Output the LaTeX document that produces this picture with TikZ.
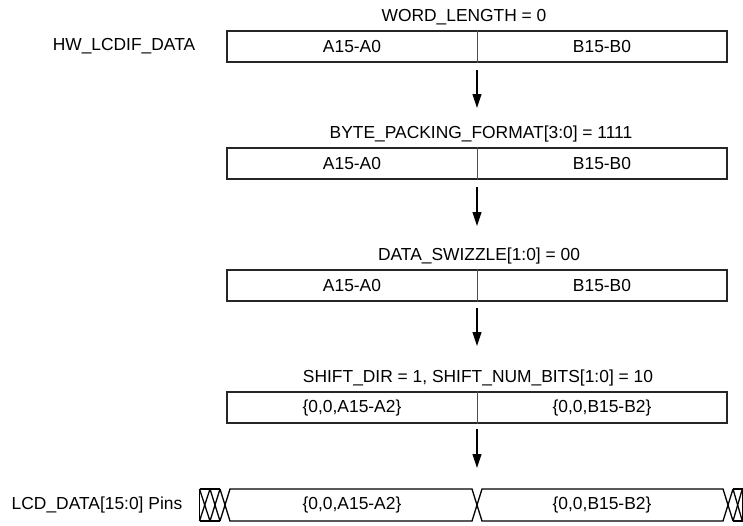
\documentclass[tikz,border=0pt]{standalone}
\usepackage{fontspec}
\setmainfont{Liberation Sans}
\usetikzlibrary{arrows.meta}

\tikzset{
    frame/.style={draw=black!85, line width=1.2pt, minimum width=500pt, minimum height=31pt, inner sep=0pt},
    divider/.style={draw=black!70, line width=0.9pt},
    title/.style={anchor=base, inner sep=0pt},
    flow/.style={draw=black, line width=1.1pt, -{Triangle[width=9pt,length=14pt]}},
    bus/.style={draw=black, line width=1.3pt},
}

\begin{document}
\begin{tikzpicture}[x=1pt, y=-1pt, font=\fontsize{17.4pt}{20pt}\selectfont]
    \useasboundingbox (0,0) rectangle (743,525);

    % titles
    \node[title] (wlen) at (464,21.5){WORD\_LENGTH = 0};
    \node[title] (bpf) at (481,138.5){BYTE\_PACKING\_FORMAT[3:0] = 1111};
    \node[title] (swz) at (479,260.5){DATA\_SWIZZLE[1:0] = 00};
    \node[title] (shf) at (478,382.5){SHIFT\_DIR = 1, SHIFT\_NUM\_BITS[1:0] = 10};

    \node (hwdata) at (124,46.5){HW\_LCDIF\_DATA};
    \node (lcdpins) at (97,505){LCD\_DATA[15:0] Pins};

    % registers
    \node[frame] (r1) at (477,46.5){};
    \node[frame] (r2) at (477,163.5){};
    \node[frame] (r3) at (477,285.5){};
    \node[frame] (r4) at (477,407.5){};
    \draw[divider] (r1.north) -- (r1.south);
    \draw[divider] (r2.north) -- (r2.south);
    \draw[divider] (r3.north) -- (r3.south);
    \draw[divider] (r4.north) -- (r4.south);

    \node (r1a) at (352,46.5){A15-A0};
    \node (r1b) at (602,46.5){B15-B0};
    \node (r2a) at (352,163.5){A15-A0};
    \node (r2b) at (602,163.5){B15-B0};
    \node (r3a) at (352,285.5){A15-A0};
    \node (r3b) at (602,285.5){B15-B0};
    \node (r4a) at (352,407.5){\{0,0,A15-A2\}};
    \node (r4b) at (602,407.5){\{0,0,B15-B2\}};

    % arrows
    \coordinate (s1) at (477,70);
    \coordinate (e1) at (477,108);
    \coordinate (s2) at (477,187);
    \coordinate (e2) at (477,226);
    \coordinate (s3) at (477,308);
    \coordinate (e3) at (477,346);
    \coordinate (s4) at (477,429);
    \coordinate (e4) at (477,468);
    \draw[flow] (s1) -- (e1);
    \draw[flow] (s2) -- (e2);
    \draw[flow] (s3) -- (e3);
    \draw[flow] (s4) -- (e4);

    % bus waveform
    \draw[bus] (199.5,489) -- (199.5,521);
    \draw[bus] (199.5,489) -- (220,489);
    \draw[bus] (199.5,521) -- (220,521);
    \draw[bus] (199.5,489) -- (210,521);
    \draw[bus] (199.5,521) -- (210,489);
    \draw[bus] (210,489) -- (220,521);
    \draw[bus] (210,521) -- (220,489);

    \draw[bus] (220,489) -- (230,521) -- (472,521) -- (482,489) -- (723,489) -- (733,521);
    \draw[bus] (220,521) -- (230,489) -- (472,489) -- (482,521) -- (723,521) -- (733,489);

    \draw[bus] (733,489) -- (742.3,489) -- (742.3,521) -- (733,521);
    \draw[bus] (733,489) -- (742.3,521);
    \draw[bus] (733,521) -- (742.3,489);

    \node (d1a) at (352,505){\{0,0,A15-A2\}};
    \node (d1b) at (602,505){\{0,0,B15-B2\}};
\end{tikzpicture}
\end{document}
